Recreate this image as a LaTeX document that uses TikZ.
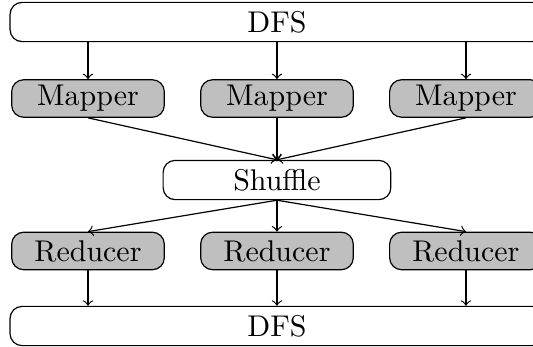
\documentclass[tikz,border=0pt]{standalone}

\begin{document}
\begin{tikzpicture}[>=to,
  store/.style={draw,rounded corners=4pt,minimum width=6.26cm,minimum height=0.46cm,inner sep=0pt},
  worker/.style={draw,fill=lightgray,rounded corners=4pt,minimum width=1.79cm,minimum height=0.44cm,inner sep=0pt},
  mid/.style={draw,rounded corners=4pt,minimum width=2.67cm,minimum height=0.46cm,inner sep=0pt}]
\useasboundingbox (0,0) rectangle (6.25,-4.069);
\node[store] (dfsin) at (3.248,-0.258) {DFS};
\node[worker] (map1) at (1.032,-1.155) {Mapper} ; \node[worker] (map2) at (3.248,-1.155) {Mapper}; \node[worker] (map3) at (5.464,-1.155) {Mapper};
\node[mid] (shuf) at (3.248,-2.111) {Shuffle};
\node[worker] (red1) at (1.032,-2.943) {Reducer}; \node[worker] (red2) at (3.248,-2.943) {Reducer}; \node[worker] (red3) at (5.464,-2.943) {Reducer};
\node[store] (dfsout) at (3.248,-3.823) {DFS};

\foreach \i in {1,2,3}{
  \draw[->] (map\i |- dfsin.south) -- (map\i.north);
  \draw[->] (map\i.south) -- (shuf.north);
  \draw[->] (shuf.south) -- (red\i.north);
  \draw[->] (red\i.south) -- (red\i |- dfsout.north);
}
\end{tikzpicture}
\end{document}
